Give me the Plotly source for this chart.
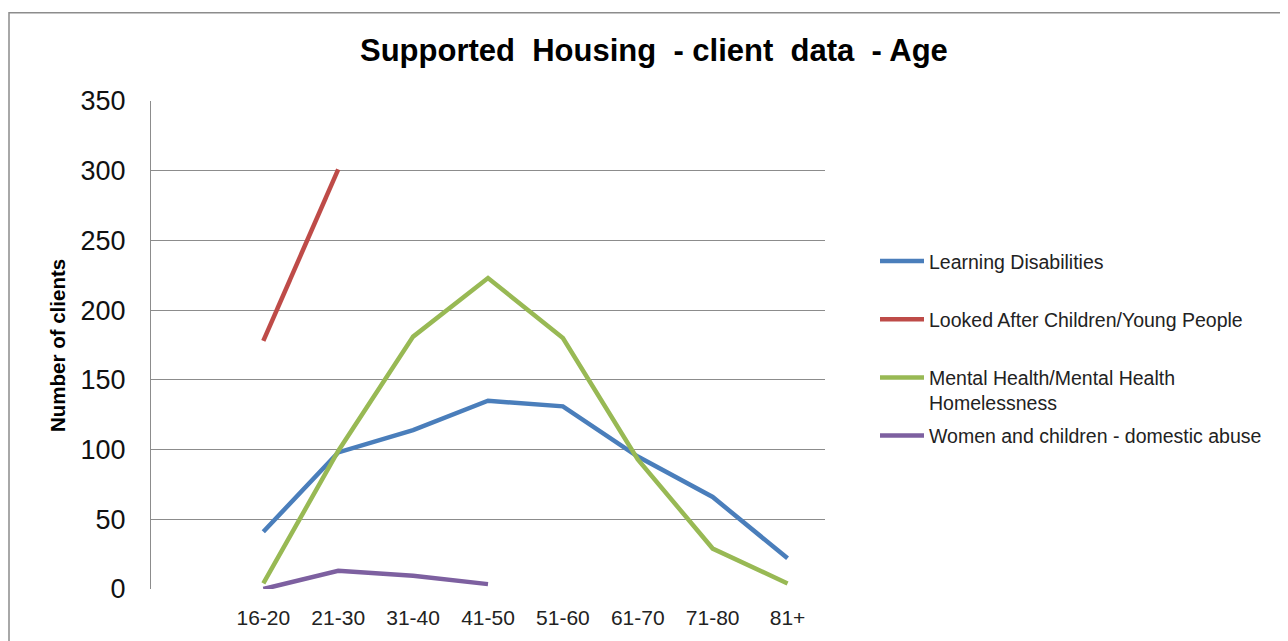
import plotly.graph_objects as go

categories = ["", "16-20", "21-30", "31-40", "41-50", "51-60", "61-70", "71-80", "81+"]
learning = [None, 41, 98, 114, 135, 131, 95, 66, 22]
looked_after = [None, 178, 301, None, None, None, None, None, None]
mental_health = [None, 4, 99, 181, 223, 180, 93, 29, 4]
women_children = [None, 0, 13, 9.5, 3.5, None, None, None, None]

series_names = [
    "Learning Disabilities",
    "Looked After Children/Young People",
    "Mental Health/Mental Health<br>Homelessness",
    "Women and children - domestic abuse",
]
series_values = [learning, looked_after, mental_health, women_children]
colors = ["#4A7EBB", "#BE4B48", "#98B954", "#7D60A0"]

# the page body has an 8px margin; work in reference pixel coords and shift
OFF = 8
W, H = 1288 - OFF, 641 - OFF
L, R, T, B = 151 - OFF, 825 - OFF, 101 - OFF, 593 - OFF


def px_x(p):
    return (p - OFF - L) / (R - L)


def px_y(p):
    return (B - (p - OFF)) / (B - T)


fig = go.Figure()
for i, (name, vals, col) in enumerate(zip(series_names, series_values, colors)):
    label = name if "<br>" in name else name + "<br> "
    fig.add_trace(go.Scatter(
        x=categories, y=vals, mode="lines", name=label,
        line=dict(color=col, width=4.5), connectgaps=False,
        legendgroup=f"g{i}",
    ))

fig.update_layout(
    width=W, height=H,
    margin=dict(l=L, r=W - R, t=T, b=H - B, pad=0),
    paper_bgcolor="white", plot_bgcolor="white",
    font=dict(family="Liberation Sans, Arial, sans-serif", color="#000"),
    showlegend=True,
    legend=dict(
        x=px_x(875), y=px_y(243), xanchor="left", yanchor="top",
        font=dict(size=19.5, color="#222"), valign="top", itemwidth=44,
        tracegroupgap=4.5, bgcolor="rgba(0,0,0,0)",
    ),
    xaxis=dict(
        type="category", categoryorder="array", categoryarray=categories,
        range=[-0.5, 8.5], showgrid=False, showline=False, zeroline=False,
        tickfont=dict(size=21, color="#222"), ticks="", ticklabelstandoff=14,
        fixedrange=True,
    ),
    yaxis=dict(
        range=[0, 350], dtick=50, showgrid=True, gridcolor="#8C8C8C", gridwidth=1.3,
        showline=True, linecolor="#8C8C8C", linewidth=1.3, zeroline=False,
        tickfont=dict(size=27, color="#111"), ticks="", ticklabelstandoff=19,
        fixedrange=True,
    ),
    annotations=[
        dict(text="<b>Supported  Housing  - client  data  - Age</b>", x=px_x(654), y=px_y(50),
             xref="paper", yref="paper", showarrow=False, font=dict(size=31, color="#000"),
             xanchor="center", yanchor="middle"),
        dict(text="<b>Number of clients</b>", x=px_x(57), y=px_y(347), textangle=-90,
             xref="paper", yref="paper", showarrow=False, font=dict(size=20.5, color="#000"),
             xanchor="center", yanchor="middle"),
    ],
    shapes=[
        dict(type="rect", xref="paper", yref="paper", x0=px_x(9), x1=px_x(1310),
             y0=px_y(680), y1=px_y(12), line=dict(color="#8C8C8C", width=1.5),
             fillcolor="rgba(0,0,0,0)", layer="below"),
    ],
)

fig.write_html("out.html")
